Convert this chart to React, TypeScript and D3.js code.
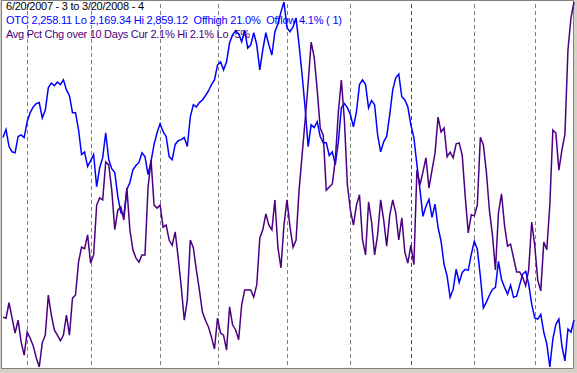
import React, { useEffect } from 'react';
import * as d3 from 'd3';

const W = 577;
const H = 373;

// OTC daily close, 6/20/2007 .. 3/20/2008 (one value per trading day)
const otcClose = [
  2603, 2618, 2586, 2576, 2574, 2605, 2608, 2603, 2633, 2650,
  2661, 2667, 2669, 2640, 2655, 2697, 2706, 2701, 2708, 2703,
  2712, 2693, 2682, 2650, 2650, 2618, 2571, 2576, 2548, 2559,
  2571, 2510, 2546, 2565, 2612, 2561, 2544, 2537, 2492, 2461,
  2456, 2505, 2518, 2542, 2550, 2556, 2574, 2567, 2533, 2558,
  2590, 2612, 2629, 2614, 2605, 2567, 2561, 2590, 2597, 2599,
  2603, 2586, 2642, 2665, 2661, 2669, 2674, 2682, 2691, 2703,
  2712, 2740, 2746, 2731, 2746, 2782, 2797, 2805, 2799, 2784,
  2806, 2772, 2778, 2801, 2778, 2731, 2769, 2801, 2778, 2759,
  2803, 2818, 2840, 2859.12, 2810, 2803, 2812, 2829, 2778, 2722,
  2659, 2586, 2627, 2622, 2633, 2605, 2593, 2593, 2569, 2576,
  2552, 2595, 2659, 2667, 2659, 2646, 2623, 2652, 2703, 2712,
  2703, 2659, 2673, 2665, 2608, 2576, 2595, 2605, 2646, 2693,
  2716, 2723, 2680, 2674, 2661, 2627, 2603, 2552, 2505, 2454,
  2473, 2486, 2452, 2477, 2433, 2407, 2363, 2341, 2301, 2316,
  2354, 2329, 2348, 2354, 2352, 2382, 2407, 2392, 2341, 2281,
  2292, 2305, 2316, 2320, 2369, 2335, 2320, 2307, 2324, 2301,
  2303, 2324, 2345, 2350, 2326, 2288, 2262, 2260, 2269, 2235,
  2213, 2169.34, 2222, 2250, 2260, 2209, 2181, 2241, 2235, 2258.11,
];

// Avg pct change over 10 days (%)
const avgPctChg = [
  -4.03, -4.05, -3.75, -4.05, -4.34, -4.09, -4.51, -4.77, -4.32, -4.44,
  -4.59, -4.82, -5.0, -4.53, -4.38, -3.6, -3.99, -4.28, -4.38, -4.49,
  -4.38, -3.99, -4.38, -3.66, -3.6, -2.96, -2.67, -2.7, -2.43, -2.98,
  -2.82, -1.85, -1.71, -1.75, -1.01, -1.07, -1.56, -2.33, -1.95, -1.89,
  -2.14, -1.52, -2.33, -2.72, -2.88, -2.96, -2.82, -2.82, -1.52, -0.97,
  -1.85, -1.91, -1.85, -2.28, -2.24, -2.53, -2.63, -2.37, -2.88, -3.44,
  -4.09, -3.7, -2.53, -2.68, -3.11, -3.5, -3.93, -4.09, -4.22, -4.42,
  -4.65, -4.05, -4.34, -4.38, -4.67, -3.83, -4.18, -4.28, -4.47, -3.79,
  -3.5, -3.5, -3.5, -3.64, -3.4, -2.49, -2.33, -2.02, -2.24, -2.33,
  -1.75, -2.68, -3.07, -2.24, -1.75, -2.28, -2.67, -2.53, -1.56, -0.88,
  -0.2, 0.52, 1.32, 1.03, 0.39, -0.35, -0.49, -1.56, -1.5, -1.44,
  -0.97, -0.04, 0.58, -0.2, -1.46, -1.95, -2.24, -1.85, -1.65, -2.53,
  -2.82, -1.79, -2.18, -2.82, -2.43, -1.75, -2.14, -2.65, -2.05, -1.75,
  -2.0, -2.53, -2.1, -2.76, -2.98, -2.63, -3.01, -1.17, -1.46, -1.21,
  -0.93, -1.52, -1.17, -0.84, -0.14, -0.43, -0.35, -0.91, -0.82, -0.93,
  -0.66, -0.64, -0.88, -1.69, -2.39, -2.04, -2.06, -1.85, -0.53, -0.68,
  -1.21, -1.95, -2.43, -3.11, -2.0, -1.63, -2.24, -2.65, -2.61, -2.88,
  -3.15, -3.15, -3.25, -3.42, -3.11, -2.18, -2.63, -3.31, -3.52, -2.57,
  -2.72, -1.85, -0.39, -0.45, -1.17, -0.78, -0.47, 1.17, 1.79, 2.1,
];

// index of first trading day of each month (Jul .. Mar)
const monthStarts = [8, 29, 52, 71, 94, 115, 135, 156, 176];
const yearStart = 135;

const titleLine = '6/20/2007 - 3 to 3/20/2008 - 4';
const otcLine = 'OTC 2,258.11 Lo 2,169.34 Hi 2,859.12  Offhigh 21.0%  Offlow 4.1% ( 1)';
const avgLine = 'Avg Pct Chg over 10 Days Cur 2.1% Hi 2.1% Lo -5%';

const App = () => {
  useEffect(() => {
    document.body.style.margin = '0';
  }, []);

  const x = d3.scaleLinear().domain([0, otcClose.length - 1]).range([3, 574]);
  const yOtc = d3.scaleLinear().domain([2169.34, 2859.12]).range([367, 2]);
  const yPct = d3.scaleLinear().domain([-5, 2.1]).range([367, 2]);

  const otcPath = d3.line<number>().x((d, i) => x(i)).y(d => yOtc(d))(otcClose);
  const pctPath = d3.line<number>().x((d, i) => x(i)).y(d => yPct(d))(avgPctChg);

  const font = { fontFamily: '"Liberation Sans", Arial, sans-serif', fontSize: 11, whiteSpace: 'pre' as const };

  return (
    <svg width={W} height={H} style={{ display: 'block' }}>
      {/* sunken frame */}
      <rect x={0} y={0} width={W} height={H} fill="#d4d0c8" />
      <rect x={2} y={1} width={571} height={367} fill="#fff" />
      <path d="M1.5,368.5 V0.5 H573.5 V368.5 H1.5" fill="none" stroke="#808080" />

      {/* month grid */}
      {monthStarts.map(m => (
        <line key={m}
          x1={Math.round(x(m)) + 0.5} x2={Math.round(x(m)) + 0.5}
          y1={4} y2={368}
          stroke={m === yearStart ? '#ff0000' : '#808080'}
          strokeDasharray="4 3" />
      ))}

      <text x={6} y={10} fill="#000" textLength={138} style={font}>{titleLine}</text>
      <text x={6} y={24} fill="#0000ff" textLength={336} style={font}>{otcLine}</text>
      <text x={6} y={37.5} fill="#4b0082" textLength={244} style={font}>{avgLine}</text>

      <path d={otcPath || ''} fill="none" stroke="#0000ff" strokeWidth={1.5} />
      <path d={pctPath || ''} fill="none" stroke="#4b0082" strokeWidth={1.5} />
    </svg>
  );
};

export default App;
